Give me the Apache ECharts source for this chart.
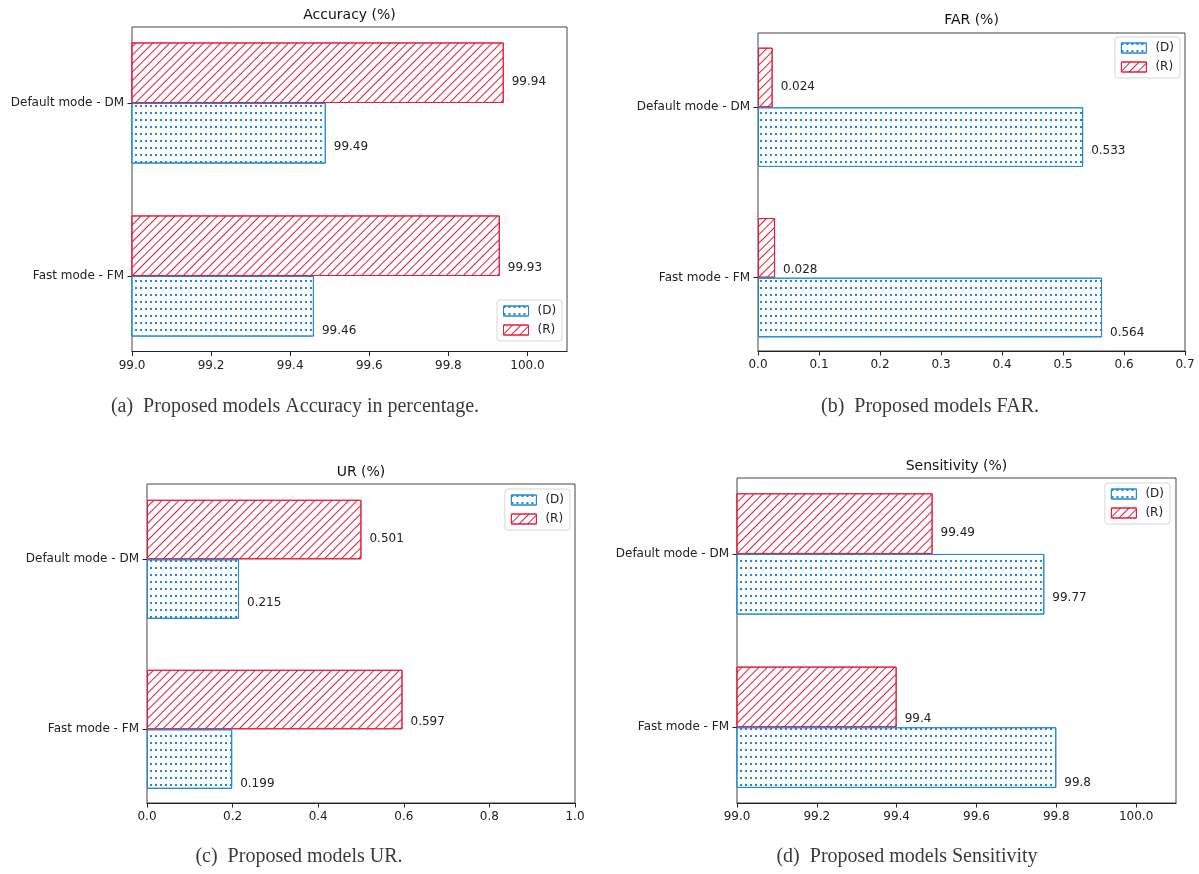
<!DOCTYPE html>
<html>
<head>
<meta charset="utf-8">
<script src="https://cdn.jsdelivr.net/npm/echarts@6/dist/echarts.min.js"></script>
<style>
html,body{margin:0;padding:0;background:#fff;}
#chart{width:1199px;height:874px;}
</style>
</head>
<body>
<div id="chart"></div>
<script>
// ---- data ----
const categories = ['Fast mode - FM', 'Default mode - DM'];
const seriesNames = ['(D)', '(R)'];
const accuracyD = [99.46, 99.49];
const accuracyR = [99.93, 99.94];
const farD = [0.564, 0.533];
const farR = [0.028, 0.024];
const urD = [0.199, 0.215];
const urR = [0.597, 0.501];
const sensD = [99.8, 99.77];
const sensR = [99.4, 99.49];
const ticksAcc = [99.0, 99.2, 99.4, 99.6, 99.8, 100.0];
const ticksFar = [0.0, 0.1, 0.2, 0.3, 0.4, 0.5, 0.6, 0.7];
const ticksUr = [0.0, 0.2, 0.4, 0.6, 0.8, 1.0];
const ticksSens = [99.0, 99.2, 99.4, 99.6, 99.8, 100.0];
const titles = ['Accuracy (%)', 'FAR (%)', 'UR (%)', 'Sensitivity (%)'];
const captions = [
  '(a)  Proposed models Accuracy in percentage.',
  '(b)  Proposed models FAR.',
  '(c)  Proposed models UR.',
  '(d)  Proposed models Sensitivity'
];

// ---- styling / layout ----
const BLUE = '#2088d4';
const RED = '#e41d3d';
const SANS = 'DejaVu Sans';
const SERIF = 'Liberation Serif';

const panels = [
  { D: accuracyD, R: accuracyR, ticks: ticksAcc, min: 99.0, max: 100.1,
    frame: {left: 132, top: 27, width: 435, height: 324.5}, bars: {top: 16.5, height: 346},
    title: [349.5, 8], caption: [295, 397], legend: {left: 497, top: 300} },
  { D: farD, R: farR, ticks: ticksFar, min: 0, max: 0.7,
    frame: {left: 758, top: 33, width: 427, height: 318}, bars: {top: 22.1, height: 340.8},
    title: [971.5, 13], caption: [930, 397], legend: {right: 19, top: 37} },
  { D: urD, R: urR, ticks: ticksUr, min: 0, max: 1.0,
    frame: {left: 147, top: 484, width: 428, height: 319}, bars: {top: 474.3, height: 340},
    title: [361, 465], caption: [299, 847], legend: {right: 629, top: 489} },
  { D: sensD, R: sensR, ticks: ticksSens, min: 99.0, max: 100.1,
    frame: {left: 737, top: 478, width: 439, height: 325}, bars: {top: 467.3, height: 346.6},
    title: [956.5, 459], caption: [907, 847], legend: {right: 29, top: 483} }
];
// vertical label offsets (px) per series, per category index
const labelDy = { D: [25, 14], R: [22, 9] };

const decalD = { symbol: 'rect', symbolSize: 1, color: BLUE, backgroundColor: null,
  dashArrayX: [1.6, 3], dashArrayY: [1.6, 4.6], rotation: 0 };
const decalR = { symbol: 'rect', symbolSize: 1, color: RED, backgroundColor: null,
  dashArrayX: [1, 0], dashArrayY: [1, 4.2], rotation: -Math.PI / 4 };

const option = {
  backgroundColor: '#fff',
  animation: false,
  title: [], legend: [], grid: [], xAxis: [], yAxis: [], series: []
};

panels.forEach((p, k) => {
  option.title.push({
    text: titles[k], left: p.title[0], top: p.title[1], textAlign: 'center', padding: 0,
    textStyle: { fontFamily: SANS, fontSize: 14, fontWeight: 'normal', color: '#111' }
  });
  option.title.push({
    text: captions[k], left: p.caption[0], top: p.caption[1], textAlign: 'center', padding: 0,
    textStyle: { fontFamily: SERIF, fontSize: 20, fontWeight: 'normal', color: '#3a3a3a' }
  });
  const fg = 2 * k, bg = 2 * k + 1;
  option.grid.push(Object.assign({ show: true, borderColor: '#444', borderWidth: 1,
    backgroundColor: 'transparent', outerBoundsMode: 'none', containLabel: false }, p.frame));
  option.grid.push({ show: false, left: p.frame.left, width: p.frame.width,
    top: p.bars.top, height: p.bars.height, outerBoundsMode: 'none', containLabel: false });
  // frame axes
  option.xAxis.push({
    type: 'value', gridIndex: fg, min: p.min, max: p.max, position: 'bottom',
    axisLine: { show: true, lineStyle: { color: '#222', width: 1 } },
    axisTick: { show: true, length: 4.5, inside: false, lineStyle: { color: '#222' }, customValues: p.ticks },
    axisLabel: { show: true, customValues: p.ticks, formatter: v => v.toFixed(1),
      fontFamily: SANS, fontSize: 12, color: '#222', margin: 8 },
    splitLine: { show: false }
  });
  option.yAxis.push({ type: 'value', gridIndex: fg, min: 0, max: 1, show: false });
  // bar axes
  option.xAxis.push({ type: 'value', gridIndex: bg, min: p.min, max: p.max, show: false });
  option.yAxis.push({
    type: 'category', gridIndex: bg, data: categories,
    axisLine: { show: false },
    axisTick: { show: true, alignWithLabel: true, length: 4.5, lineStyle: { color: '#222' } },
    axisLabel: { fontFamily: SANS, fontSize: 12, color: '#222', margin: 8 },
    splitLine: { show: false }
  });
  // R first so that it sits above D within each category
  [['R', RED, decalR, 1], ['D', BLUE, decalD, 0]].forEach(([key, col, decal, s]) => {
    option.series.push({
      type: 'bar', name: seriesNames[s], xAxisIndex: bg, yAxisIndex: bg,
      barWidth: '35%', barGap: '0%',
      itemStyle: { color: '#fff', borderColor: col, borderWidth: 1, decal: decal },
      emphasis: { disabled: true },
      label: { show: true, position: 'right', distance: 8, fontFamily: SANS, fontSize: 12, color: '#222' },
      data: p[key].map((v, i) => ({ value: v, label: { offset: [0, labelDy[key][i]] } }))
    });
  });
  option.legend.push(Object.assign({
    orient: 'vertical', data: seriesNames, icon: 'rect', itemWidth: 25, itemHeight: 10, itemGap: 7,
    padding: [5, 6, 5, 6], backgroundColor: 'rgba(255,255,255,0.8)', borderColor: '#d6d6d6',
    borderWidth: 1, borderRadius: 3, selectedMode: false,
    itemStyle: { borderWidth: 1 },
    textStyle: { fontFamily: SANS, fontSize: 12, color: '#222', padding: [0, 0, 0, 4] }
  }, p.legend));
});

const chart = echarts.init(document.getElementById('chart'), null, { renderer: 'canvas' });
chart.setOption(option);
</script>
</body>
</html>
